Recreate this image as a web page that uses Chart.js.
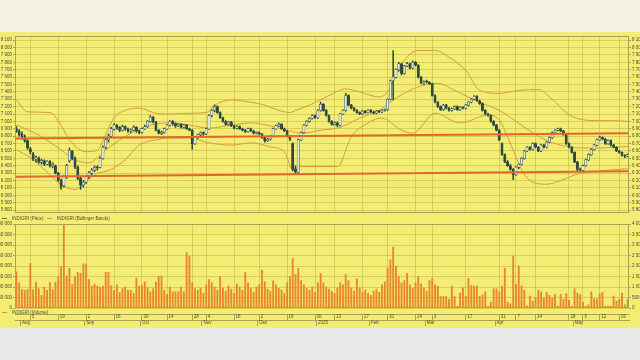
<!DOCTYPE html>
<html lang="en">
<head>
<meta charset="UTF-8">
<title>INDIGRI - Price, Bollinger Bands, Volume</title>
<script src="https://cdn.jsdelivr.net/npm/chart.js"></script>
<style>
  html, body { margin: 0; padding: 0; }
  body { width: 640px; height: 360px; background: #e9e9e9; position: relative; overflow: hidden;
         font-family: "Liberation Sans", Arial, sans-serif; }
  #top { position: absolute; left: 0; top: 0; width: 640px; height: 32px; background: #f4f3e3; }
  #panel { position: absolute; left: 0; top: 32px; width: 640px; height: 296px; background: #f3ed74; }
  canvas { position: absolute; left: 0; }
  #c1 { top: 32px; }
  #c2 { top: 220px; }
  .lg { position: absolute; left: 0; width: 200px; height: 6px; }
  .mk { position: absolute; top: 3px; width: 5px; height: 1px; }
  .tx { position: absolute; top: 0; font-size: 9px; line-height: 12px; transform: scale(0.5);
        transform-origin: 0 0; color: #4d4a35; white-space: nowrap; }
</style>
</head>
<body>
<div id="top"></div>
<div id="panel"></div>
<canvas id="c1" width="640" height="184"></canvas>
<canvas id="c2" width="640" height="108"></canvas>

<div class="lg" style="top:215px">
  <span class="mk" style="left:2px;background:#7d7040"></span><span class="tx" style="left:12px">INDIGRI (Price)</span>
  <span class="mk" style="left:47px;background:#d39b42"></span><span class="tx" style="left:57px">INDIGRI (Bollinger Bands)</span>
</div>
<div class="lg" style="top:309px">
  <span class="mk" style="left:2px;background:#e8862c"></span><span class="tx" style="left:12px">INDIGRI (Volume)</span>
</div>

<script>
// daily candles, [open, high, low, close]
const ohlc = [
  [6900,6930,6850,6870],[6870,6890,6800,6820],[6830,6860,6760,6790],[6790,6820,6720,6740],[6740,6750,6620,6640],
  [6630,6650,6560,6590],[6560,6580,6470,6490],[6490,6530,6450,6510],[6500,6520,6430,6450],[6450,6490,6420,6470],
  [6470,6480,6400,6420],[6420,6470,6410,6460],[6460,6470,6380,6400],[6400,6440,6370,6420],[6400,6410,6290,6300],
  [6300,6310,6190,6200],[6200,6220,6080,6120],[6130,6270,6110,6250],[6250,6420,6230,6400],[6470,6640,6450,6610],
  [6600,6610,6480,6500],[6500,6520,6360,6380],[6380,6400,6210,6230],[6230,6250,6080,6140],[6140,6200,6110,6180],
  [6180,6270,6160,6250],[6250,6320,6230,6300],[6300,6360,6280,6340],[6340,6400,6320,6380],[6380,6400,6340,6370],
  [6380,6520,6370,6500],[6500,6670,6490,6650],[6650,6770,6630,6750],[6750,6830,6720,6800],[6800,6920,6790,6900],
  [6900,6970,6880,6950],[6950,6960,6890,6920],[6920,6930,6860,6880],[6880,6950,6870,6930],[6930,6940,6880,6900],
  [6900,6910,6850,6870],[6870,6900,6850,6880],[6880,6940,6870,6920],[6920,6930,6850,6870],[6870,6880,6830,6850],
  [6850,6910,6840,6900],[6900,6950,6890,6930],[6930,7010,6920,7000],[7000,7080,6990,7060],[7060,7070,6980,6990],
  [6990,7000,6870,6880],[6880,6890,6830,6840],[6840,6870,6820,6850],[6850,6910,6840,6900],[6900,6960,6890,6950],
  [6950,7010,6940,7000],[7000,7010,6950,6970],[6970,6980,6920,6940],[6940,6970,6930,6960],[6960,6970,6910,6920],
  [6920,6960,6910,6950],[6950,6960,6890,6900],[6900,6910,6870,6880],[6880,6890,6620,6700],[6700,6790,6690,6780],
  [6780,6830,6770,6820],[6820,6860,6800,6850],[6850,6860,6810,6830],[6830,6910,6820,6900],[6900,7090,6890,7080],
  [7080,7160,7060,7150],[7150,7220,7130,7200],[7200,7210,7110,7120],[7120,7130,7040,7050],[7050,7060,6990,7000],
  [7000,7010,6950,6960],[6960,7000,6950,6990],[6990,7000,6930,6940],[6940,6950,6900,6910],[6910,6940,6900,6930],
  [6930,6940,6890,6900],[6900,6910,6870,6880],[6880,6890,6850,6860],[6860,6910,6850,6900],[6900,6910,6860,6870],
  [6870,6880,6830,6840],[6840,6860,6830,6850],[6850,6860,6820,6830],[6830,6840,6770,6780],[6780,6790,6720,6740],
  [6740,6770,6730,6760],[6760,6810,6750,6800],[6800,6910,6790,6900],[6900,6950,6890,6940],[6940,6980,6930,6960],
  [6960,6970,6890,6900],[6900,6910,6860,6870],[6870,6880,6790,6800],[6800,6810,6740,6760],[6700,6710,6330,6350],
  [6350,6400,6280,6320],[6310,6760,6300,6750],[6750,6860,6740,6850],[6850,6960,6840,6950],[6950,7010,6940,7000],
  [7000,7050,6990,7040],[7040,7090,7030,7080],[7080,7090,7040,7050],[7050,7160,7040,7150],[7150,7260,7140,7230],
  [7230,7240,7140,7150],[7150,7160,7070,7080],[7080,7090,6990,7000],[7000,7010,6950,6960],[6960,6990,6950,6980],
  [6980,6990,6930,6950],[6950,7110,6940,7100],[7100,7160,7090,7150],[7150,7380,7140,7350],[7350,7360,7210,7220],
  [7220,7230,7170,7180],[7180,7190,7140,7150],[7150,7160,7110,7120],[7120,7130,7090,7100],[7100,7150,7090,7140],
  [7140,7150,7110,7120],[7120,7160,7110,7150],[7150,7160,7120,7130],[7130,7140,7100,7110],[7110,7150,7100,7140],
  [7140,7150,7120,7130],[7130,7160,7120,7150],[7150,7170,7140,7160],[7160,7310,7150,7300],[7300,7560,7290,7550],
  [7550,7960,7290,7600],[7600,7710,7590,7700],[7700,7800,7680,7780],[7780,7790,7630,7650],[7650,7760,7640,7750],
  [7750,7800,7740,7780],[7780,7790,7710,7720],[7720,7820,7710,7800],[7800,7810,7750,7760],[7760,7770,7590,7600],
  [7600,7610,7510,7520],[7520,7550,7500,7540],[7540,7560,7520,7530],[7530,7540,7500,7510],[7510,7520,7340,7350],
  [7350,7360,7250,7260],[7260,7270,7190,7200],[7200,7210,7150,7160],[7160,7230,7150,7220],[7220,7230,7170,7180],
  [7180,7190,7140,7150],[7150,7180,7140,7170],[7170,7210,7160,7200],[7200,7210,7150,7160],[7160,7200,7150,7190],
  [7190,7200,7170,7180],[7180,7230,7170,7220],[7220,7270,7210,7260],[7260,7310,7250,7300],[7300,7350,7290,7340],
  [7340,7350,7270,7280],[7280,7290,7230,7240],[7240,7250,7140,7150],[7150,7160,7090,7100],[7100,7110,7070,7080],
  [7080,7090,6990,7000],[7000,7010,6940,6950],[6950,6960,6870,6880],[6880,6890,6740,6750],[6700,6710,6540,6550],
  [6550,6560,6440,6450],[6450,6470,6390,6400],[6400,6420,6340,6350],[6350,6360,6210,6280],[6280,6390,6270,6380],
  [6380,6430,6360,6420],[6420,6510,6410,6500],[6500,6610,6490,6600],[6600,6660,6590,6650],[6650,6660,6610,6620],
  [6620,6710,6610,6700],[6700,6710,6640,6650],[6650,6660,6590,6600],[6600,6690,6590,6680],[6680,6690,6640,6650],
  [6650,6730,6640,6720],[6720,6790,6710,6780],[6780,6860,6770,6850],[6850,6890,6840,6880],[6880,6910,6870,6900],
  [6900,6910,6860,6870],[6870,6880,6810,6820],[6820,6830,6690,6700],[6700,6710,6640,6650],[6650,6660,6570,6580],
  [6580,6590,6440,6450],[6450,6460,6320,6350],[6350,6370,6320,6340],[6340,6410,6330,6400],[6400,6490,6390,6480],
  [6480,6560,6470,6550],[6550,6630,6540,6620],[6620,6690,6610,6680],[6680,6760,6670,6750],[6750,6800,6740,6780],
  [6780,6790,6750,6760],[6760,6770,6690,6700],[6700,6750,6690,6740],[6740,6750,6670,6680],[6680,6690,6640,6650],
  [6650,6660,6590,6600],[6600,6610,6570,6580],[6580,6590,6530,6540],[6540,6550,6510,6530],[6530,6560,6520,6550]
];

const volume = [
  172000,120000,89000,84000,88000,213000,88000,124000,92000,60000,
  100000,84000,121000,88000,124000,148000,197000,398000,153000,189000,
  113000,148000,170000,165000,210000,210000,136000,104000,113000,104000,
  100000,104000,170000,170000,106000,84000,109000,75000,92000,100000,
  84000,84000,71000,143000,104000,107000,124000,96000,77000,92000,
  124000,151000,153000,84000,65000,100000,77000,77000,77000,98000,
  77000,264000,248000,120000,92000,84000,
  95000,70000,110000,135000,120000,100000,85000,150000,95000,80000,
  105000,90000,70000,115000,100000,85000,170000,120000,95000,75000,
  100000,110000,180000,125000,90000,80000,130000,110000,95000,85000,
  70000,120000,150000,235000,160000,190000,130000,110000,95000,85000,
  100000,75000,120000,165000,120000,100000,90000,80000,70000,95000,
  120000,110000,160000,130000,95000,80000,140000,95000,75000,85000,
  70000,60000,80000,90000,75000,110000,125000,190000,230000,290000,
  200000,150000,120000,130000,165000,110000,95000,120000,150000,115000,
  95000,80000,130000,140000,110000,104000,55000,
  55000,55000,41000,104000,55000,8000,71000,96000,55000,141000,
  107000,104000,104000,55000,63000,77000,8000,28000,92000,92000,
  77000,104000,189000,28000,20000,248000,113000,201000,106000,84000,
  10000,57000,33000,49000,84000,77000,49000,74000,60000,49000,
  65000,10000,65000,41000,68000,36000,8000,92000,71000,63000,
  28000,8000,15000,77000,44000,44000,68000,75000,8000,10000,
  8000,57000,33000,41000,71000,15000,40000
];

// Bollinger bands read at [candle index, price]
const upperBand = [[0,7290],[4,7130],[12,7120],[16,6950],[19,6750],[25,6590],[29,6610],[32,6820],[35,7050],
  [39,7150],[44,7180],[50,7110],[55,7100],[62,7110],[68,7120],[71,7220],[77,7290],[84,7260],[89,7220],[94,7150],
  [98,7120],[100,7150],[105,7220],[112,7350],[118,7440],[123,7400],[130,7330],[133,7400],[138,7780],[144,7960],
  [150,7960],[155,7870],[161,7690],[166,7420],[173,7380],[180,7420],[187,7430],[192,7300],[197,7120],[202,7030],
  [209,7010],[214,7010],[219,7000]];
const middleBand = [[0,6950],[8,6815],[16,6615],[21,6480],[26,6440],[32,6615],[37,6750],[42,6860],[48,6950],
  [55,6980],[62,6950],[69,6910],[77,6950],[84,6980],[91,6940],[98,6870],[102,6840],[109,6880],[116,6920],
  [123,7045],[130,7150],[135,7290],[141,7420],[146,7490],[151,7515],[157,7420],[162,7330],[167,7245],[173,7150],
  [179,7000],[184,6870],[189,6760],[195,6680],[202,6640],[209,6640],[219,6660]];
const lowerBand = [[0,6615],[5,6510],[10,6350],[16,6145],[21,6080],[25,6185],[28,6280],[34,6350],[39,6480],
  [44,6680],[50,6750],[55,6775],[62,6775],[69,6710],[77,6680],[84,6710],[91,6655],[96,6590],[99,6350],[102,6390],
  [115,6390],[120,6790],[126,6980],[131,7045],[138,6880],[142,6840],[150,7110],[159,6980],[169,7085],[173,7018],
  [177,6700],[181,6350],[184,6200],[190,6150],[195,6200],[202,6300],[209,6330],[219,6360]];

// trend lines drawn on the chart
const resistanceLine = [[-0.5,6770],[219.5,6840]];
const supportLine = [[-0.5,6250],[219.5,6325]];

const priceTicks = [5800,5900,6000,6100,6200,6300,6400,6500,6600,6700,6800,6900,7000,
  7100,7200,7300,7400,7500,7600,7700,7800,7900,8000,8100];
const volumeTicks = [0,50000,100000,150000,200000,250000,300000,350000,400000];

const dayTickIdx = [5,15,25,35,45,54,63,68,78,87,97,107,114,124,133,143,149,161,173,179,186,198,203,209,216];
const dayTickLabels = ['5','19','2','16','30','14','28','4','18','2','16','30','13','27','10','24','3','17','31','7','14','28','5','12','19'];
const monthTickIdx = [1.5,24.5,44.5,66.5,86.5,107.5,126.5,146.5,171.5,199.5];
const monthTickLabels = ['Aug','Sep','Oct','Nov','Dec','2025','Feb','Mar','Apr','May'];

const frameColor = '#aaa24c';
const gridColor = 'rgba(150,140,40,0.3)';
const textColor = '#4d4a35';
const tickFont = { family: '"Liberation Sans", Arial, sans-serif', size: 4.5 };
const xMin = -0.5, xMax = ohlc.length - 0.5;

const fmt = v => String(v).replace(/\B(?=(\d{3})+(?!\d))/g, ' ');
const pts = arr => arr.map(p => ({ x: p[0], y: p[1] }));

// outline of the plot area
const frame = {
  id: 'frame',
  afterDraw(chart) {
    const { ctx, chartArea: a } = chart;
    ctx.save();
    ctx.strokeStyle = frameColor;
    ctx.lineWidth = 1;
    ctx.strokeRect(Math.round(a.left) + 0.5, Math.round(a.top) + 0.5,
      Math.round(a.right - a.left) - 1, Math.round(a.bottom - a.top) - 1);
    ctx.restore();
  }
};

const bandStyle = { type: 'line', borderColor: '#d39b42', borderWidth: 1, pointRadius: 0,
  cubicInterpolationMode: 'monotone', order: 5 };
const trendStyle = { type: 'line', borderColor: '#e2662e', borderWidth: 2, pointRadius: 0, order: 0 };

// y axis shared settings, every tick labelled
const yAxis = (pos, ticks, width, fmtFn, onArea) => ({
  type: 'linear', position: pos, min: ticks.min, max: ticks.max,
  ticks: { font: tickFont, color: textColor, padding: 1, autoSkip: false, callback: fmtFn },
  grid: { color: gridColor, drawOnChartArea: onArea, tickColor: frameColor, tickLength: 2 },
  border: { display: false },
  afterBuildTicks: s => { s.ticks = ticks.list.map(v => ({ value: v })); },
  afterFit: s => { s.width = width; }
});
const priceRange = { min: 5770, max: 8160, list: priceTicks };
const volumeRange = { min: 0, max: 400000, list: volumeTicks };

new Chart(document.getElementById('c1'), {
  type: 'bar',
  data: {
    datasets: [
      { ...bandStyle, label: 'Upper', data: pts(upperBand) },
      { ...bandStyle, label: 'Middle', data: pts(middleBand) },
      { ...bandStyle, label: 'Lower', data: pts(lowerBand) },
      { ...trendStyle, label: 'Resistance', data: pts(resistanceLine) },
      { ...trendStyle, label: 'Support', data: pts(supportLine) },
      {
        label: 'Wick', order: 3, grouped: false, barThickness: 0.9,
        data: ohlc.map((d, i) => ({ x: i, y: [d[2], d[1]] })),
        backgroundColor: '#2f4a40'
      },
      {
        label: 'Body', order: 2, grouped: false, barThickness: 2.3, minBarLength: 0.8,
        data: ohlc.map((d, i) => ({ x: i, y: [d[0], d[3]] })),
        backgroundColor: ohlc.map(d => d[3] >= d[0] ? '#dfe8e4' : '#2f4a40'),
        borderColor: '#2f4a40', borderWidth: 0.5, borderSkipped: false
      }
    ]
  },
  options: {
    responsive: false,
    animation: false,
    events: [],
    layout: { padding: { top: 3, bottom: 3, left: 0, right: 0 } },
    plugins: { legend: { display: false }, tooltip: { enabled: false } },
    scales: {
      x: {
        type: 'linear', min: xMin, max: xMax, offset: false,
        ticks: { display: false },
        grid: { color: gridColor, drawTicks: false, offset: false },
        border: { display: false },
        afterBuildTicks: s => { s.ticks = dayTickIdx.map(v => ({ value: v })); },
        afterFit: s => { s.height = 0; }
      },
      y: yAxis('left', priceRange, 15, v => fmt(v), true),
      y2: yAxis('right', priceRange, 11, v => fmt(v), false)
    }
  },
  plugins: [frame]
});

new Chart(document.getElementById('c2'), {
  type: 'bar',
  data: {
    datasets: [{
      label: 'Volume', xAxisID: 'x', yAxisID: 'yv', grouped: false, barThickness: 1.2,
      data: volume.map((v, i) => ({ x: i, y: v })),
      backgroundColor: '#e8862c'
    }]
  },
  options: {
    responsive: false,
    animation: false,
    events: [],
    layout: { padding: { top: 4, bottom: 2, left: 0, right: 0 } },
    plugins: { legend: { display: false }, tooltip: { enabled: false } },
    scales: {
      xpad: {
        type: 'linear', position: 'bottom', weight: 0, min: xMin, max: xMax, offset: false,
        ticks: { display: false },
        grid: { display: false, offset: false },
        border: { display: false },
        afterFit: s => { s.height = 6; }
      },
      x: {
        type: 'linear', position: 'bottom', weight: 1, min: xMin, max: xMax, offset: false,
        ticks: { font: tickFont, color: textColor, align: 'start', labelOffset: 1.5, padding: -5.7,
                 autoSkip: false, maxRotation: 0, callback: (v, i) => dayTickLabels[i] },
        grid: { color: gridColor, tickColor: frameColor, tickLength: 6, offset: false },
        border: { display: true, color: frameColor },
        afterBuildTicks: s => { s.ticks = dayTickIdx.map(v => ({ value: v })); },
        afterFit: s => { s.height = 6; }
      },
      xm: {
        type: 'linear', position: 'bottom', weight: 2, min: xMin, max: xMax, offset: false,
        ticks: { font: tickFont, color: textColor, align: 'start', labelOffset: 1.5, padding: -5.7,
                 autoSkip: false, maxRotation: 0, callback: (v, i) => monthTickLabels[i] },
        grid: { drawOnChartArea: false, tickColor: frameColor, tickLength: 6, offset: false },
        border: { display: true, color: frameColor },
        afterBuildTicks: s => { s.ticks = monthTickIdx.map(v => ({ value: v })); },
        afterFit: s => { s.height = 6; }
      },
      yv: yAxis('left', volumeRange, 15, v => fmt(v), true),
      yv2: yAxis('right', volumeRange, 11, v => fmt(v / 100), false)
    }
  },
  plugins: [frame]
});
</script>
</body>
</html>
